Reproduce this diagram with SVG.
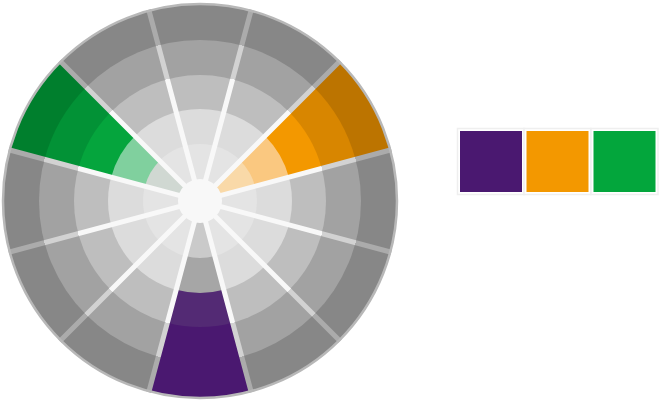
<svg xmlns="http://www.w3.org/2000/svg" width="659" height="400" viewBox="0 0 659 400">
  <defs>
    <radialGradient id="spokeGrad" gradientUnits="userSpaceOnUse" cx="200" cy="201" r="197">
      <stop offset="0" stop-color="#f8f8f8"/>
      <stop offset="0.64" stop-color="#f8f8f8"/>
      <stop offset="0.64" stop-color="#d2d2d2"/>
      <stop offset="0.817" stop-color="#d2d2d2"/>
      <stop offset="0.817" stop-color="#ababab"/>
      <stop offset="1" stop-color="#ababab"/>
    </radialGradient>
  </defs>
  <style>
    .spokes { fill: none; stroke: url(#spokeGrad); stroke-width: 5; }
    .rim { fill: none; stroke: #b8b8b8; stroke-width: 2.5; }
    .frame { fill: #ffffff; stroke: #efefef; stroke-width: 1.5; }
  </style>
  <rect width="659" height="400" fill="#ffffff"/>

  <g id="wheel-rings">
    <circle cx="200" cy="201" r="197" fill="#878787"/>
    <circle cx="200" cy="201" r="161" fill="#a2a2a2"/>
    <circle cx="200" cy="201" r="126" fill="#bebebe"/>
    <circle cx="200" cy="201" r="92" fill="#dcdcdc"/>
    <circle cx="200" cy="201" r="57" fill="#e4e4e4"/>
  </g>

  <g id="sector-orange">
    <path d="M200,201 L339.30,61.70 A197,197 0 0 1 390.29,150.01 Z" fill="#bc7400"/>
    <path d="M200,201 L313.84,87.16 A161,161 0 0 1 355.51,159.33 Z" fill="#d88600"/>
    <path d="M200,201 L289.10,111.90 A126,126 0 0 1 321.71,168.39 Z" fill="#f39800"/>
    <path d="M200,201 L265.05,135.95 A92,92 0 0 1 288.87,177.19 Z" fill="#fac880"/>
    <path d="M200,201 L240.31,160.69 A57,57 0 0 1 255.06,186.25 Z" fill="#f9d9a8"/>
  </g>

  <g id="sector-green">
    <path d="M200,201 L9.71,150.01 A197,197 0 0 1 60.70,61.70 Z" fill="#007f2d"/>
    <path d="M200,201 L44.49,159.33 A161,161 0 0 1 86.16,87.16 Z" fill="#029236"/>
    <path d="M200,201 L78.29,168.39 A126,126 0 0 1 110.90,111.90 Z" fill="#05a53d"/>
    <path d="M200,201 L111.13,177.19 A92,92 0 0 1 134.95,135.95 Z" fill="#80d09e"/>
    <path d="M200,201 L144.94,186.25 A57,57 0 0 1 159.69,160.69 Z" fill="#d0d8d2"/>
  </g>

  <g id="sector-purple">
    <path d="M200,201 L250.99,391.29 A197,197 0 0 1 149.01,391.29 Z" fill="#4a1870"/>
    <path d="M200,201 L232.61,322.71 A126,126 0 0 1 167.39,322.71 Z" fill="#532a74"/>
    <path d="M200,201 L223.81,289.87 A92,92 0 0 1 176.19,289.87 Z" fill="#a6a6a6"/>
    <path d="M200,201 L214.75,256.06 A57,57 0 0 1 185.25,256.06 Z" fill="#cacaca"/>
  </g>

  <g id="spokes">
    <path class="spokes" d="M251.25,9.74 L148.75,392.26 M340.01,60.99 L59.99,341.01 M391.26,149.75 L8.74,252.25 M391.26,252.25 L8.74,149.75 M340.01,341.01 L59.99,60.99 M251.25,392.26 L148.75,9.74"/>
  </g>

  <g id="wheel-center">
    <circle cx="200" cy="201" r="22" fill="#f8f8f8"/>
    <circle class="rim" cx="200" cy="201" r="197"/>
  </g>

  <g id="swatch-purple">
    <rect class="frame" x="457.5" y="128.5" width="67" height="66"/>
    <rect x="460" y="131" width="62" height="61" fill="#4a1870"/>
  </g>
  <g id="swatch-orange">
    <rect class="frame" x="524" y="128.5" width="67" height="66"/>
    <rect x="526.5" y="131" width="62" height="61" fill="#f39800"/>
  </g>
  <g id="swatch-green">
    <rect class="frame" x="591" y="128.5" width="67" height="66"/>
    <rect x="593.5" y="131" width="62" height="61" fill="#03a63c"/>
  </g>
</svg>
